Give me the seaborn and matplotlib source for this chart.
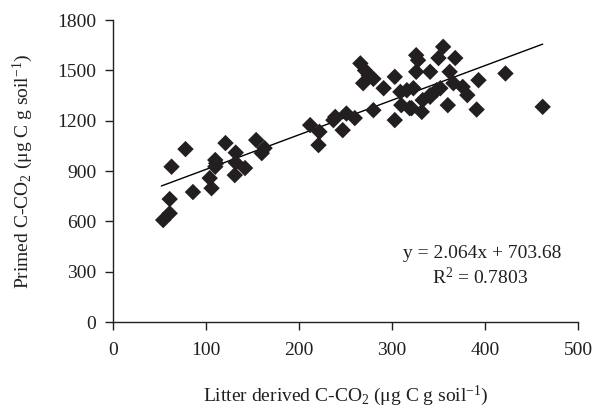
import numpy as np
import pandas as pd
import matplotlib
matplotlib.use("Agg")
import matplotlib.pyplot as plt
import seaborn as sns

# Litter derived vs primed C-CO2
litter_c = [54, 61, 61, 63, 78, 86, 104, 106, 110, 110, 111, 121, 131, 132, 132,
            142, 154, 160, 163, 212, 221, 222, 237, 239, 247, 251, 260, 266, 269,
            271, 275, 280, 280, 291, 303, 303, 309, 310, 316, 319, 321, 323, 326,
            326, 328, 332, 333, 341, 341, 341, 348, 350, 352, 355, 360, 362, 366,
            368, 376, 381, 391, 393, 422, 462]
primed_c = [608, 648, 733, 926, 1031, 775, 858, 798, 966, 926, 946, 1067, 876, 950,
            1010, 918, 1085, 1007, 1037, 1174, 1055, 1134, 1204, 1223, 1144, 1243,
            1216, 1542, 1424, 1500, 1470, 1450, 1263, 1394, 1462, 1204, 1372, 1293,
            1382, 1275, 1275, 1394, 1591, 1492, 1561, 1253, 1323, 1492, 1343, 1353,
            1382, 1574, 1394, 1641, 1293, 1492, 1424, 1574, 1402, 1353, 1267, 1442,
            1482, 1283]

# trend line end points
trend_x = [52, 462]
trend_y = [811, 1657]

df = pd.DataFrame({"litter": litter_c, "primed": primed_c})
trend = pd.DataFrame({"x": trend_x, "y": trend_y})

sns.set_style("ticks")
plt.rcParams["font.family"] = ["Liberation Serif", "DejaVu Serif"]
plt.rcParams["mathtext.fontset"] = "custom"
plt.rcParams["mathtext.rm"] = "Liberation Serif"
plt.rcParams["mathtext.it"] = "Liberation Serif:italic"

fs = 14
ink = "#231f20"

fig = plt.figure(figsize=(6.04, 4.11), dpi=100)
ax = fig.add_axes([0.187, 0.2165, 0.77, 0.7345])

sns.lineplot(x="x", y="y", data=trend, color="black", linewidth=1.0, ax=ax)
sns.scatterplot(x="litter", y="primed", data=df, marker="D", s=70,
                color=ink, edgecolor="none", ax=ax, zorder=3)

ax.set_xlim(0, 500)
ax.set_ylim(0, 1800)
ax.set_xticks(range(0, 501, 100))
ax.set_yticks(range(0, 1801, 300))
sns.despine(ax=ax)
for s in ["left", "bottom"]:
    ax.spines[s].set_linewidth(1.0)
    ax.spines[s].set_color(ink)
ax.tick_params(direction="out", length=5.5, width=1, labelsize=fs, colors=ink)
ax.tick_params(axis="x", pad=9)
ax.tick_params(axis="y", pad=6.5)

ax.set_xlabel("Litter derived C-CO$_2$ ($\\mathrm{\\mu}$g C g soil$^{-1}$)",
              fontsize=fs, color=ink, labelpad=18)
ax.set_ylabel("Primed C-CO$_2$ ($\\mathrm{\\mu}$g C g soil$^{-1}$)",
              fontsize=fs, color=ink, labelpad=16)

ax.text(397, 411, "y = 2.064x + 703.68", ha="center", va="center",
        fontsize=fs, color=ink)
ax.text(395, 268, "R$^2$ = 0.7803", ha="center", va="center",
        fontsize=fs, color=ink)

fig.savefig("out.png", dpi=100)
